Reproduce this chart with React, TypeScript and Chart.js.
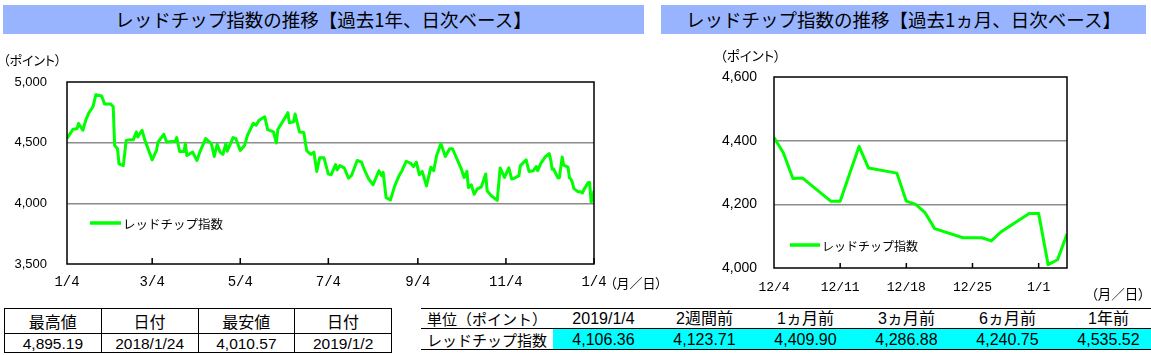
import React, { useEffect, useRef } from 'react';
import { Chart, registerables } from 'chart.js';

Chart.register(...registerables);

// ---- 1-year series (x = days since 2018/1/4) ----
const yearDays = [
  0, 4, 7, 8, 11, 13, 15, 18, 20, 24, 26, 30, 32, 33, 35, 36, 39, 41, 44, 46, 48, 49, 52, 54, 57, 59,
  62, 63, 67, 69, 75, 76, 78, 81, 82, 83, 87, 90, 92, 96, 100, 102, 104, 106, 108, 110, 111, 115, 117,
  120, 123, 125, 127, 129, 131, 133, 137, 139, 143, 145, 146, 150, 153, 154, 157, 158, 161, 164, 166,
  167, 169, 171, 173, 175, 178, 181, 183, 186, 187, 189, 192, 195, 197, 201, 204, 206, 209, 212, 216,
  218, 219, 221, 224, 227, 230, 232, 235, 238, 240, 242, 244, 246, 249, 252, 254, 256, 259, 262, 265,
  267, 273, 275, 277, 278, 280, 282, 284, 287, 290, 291, 294, 298, 300, 303, 306, 308, 310, 313, 314,
  318, 320, 323, 325, 326, 328, 331, 334, 335, 336, 337, 340, 341, 342, 343, 344, 347, 348, 349, 350,
  351, 354, 356, 357, 358, 361, 362, 363, 364, 365,
];
const yearValues = [
  4535.52, 4608, 4617, 4658, 4602, 4686, 4742, 4797, 4895.19, 4885, 4819, 4819, 4797, 4477, 4450, 4325,
  4311, 4519, 4525, 4525, 4588, 4547, 4602, 4519, 4422, 4358,
  4436, 4505, 4569, 4505, 4511, 4542, 4427, 4427, 4492, 4394, 4422, 4353, 4422, 4533, 4492, 4386, 4486,
  4422, 4403, 4492, 4430, 4542, 4533,
  4436, 4477, 4561, 4610, 4660, 4644, 4685, 4713, 4608, 4588, 4497, 4608, 4686, 4747, 4663, 4672, 4736,
  4588, 4583, 4436,
  4422, 4403, 4422, 4263, 4375, 4375, 4240.75, 4236, 4319, 4275, 4311, 4292, 4208, 4228, 4353, 4339,
  4275, 4200, 4153, 4269,
  4228, 4255, 4047, 4028, 4144, 4228, 4269, 4347, 4330, 4303, 4339, 4236, 4263, 4144, 4297, 4269, 4394,
  4492, 4386, 4450,
  4450, 4286.88, 4213, 4263, 4130, 4153, 4075, 4117, 4136, 4242, 4103, 4061, 4025, 4292, 4213, 4292,
  4200, 4208, 4228, 4311,
  4358, 4263, 4269, 4303, 4269, 4325, 4380, 4409.9, 4361, 4281, 4283, 4210, 4210, 4296, 4382, 4314,
  4298, 4210, 4200, 4173,
  4123.71, 4095, 4095, 4085, 4113, 4171, 4171, 4010.57, 4026, 4106.36,
];
const yearTickDays = [0, 59, 120, 181, 243, 304, 365];
const yearTickLabels = ['1/4', '3/4', '5/4', '7/4', '9/4', '11/4', '1/4'];
const yearYTicks = [3500, 4000, 4500, 5000];

// ---- 1-month series (x = days since 2018/12/4) ----
const monthDays = [0, 1, 2, 3, 6, 7, 8, 9, 10, 13, 14, 15, 16, 17, 20, 21, 22, 23, 24, 27, 28, 29, 30, 31];
const monthValues = [
  4409.9, 4361, 4281, 4283, 4210, 4210, 4296, 4382, 4314, 4298, 4210, 4200, 4173, 4123.71, 4095, 4095,
  4095, 4085, 4113, 4171, 4171, 4010.57, 4026, 4106.36,
];
const monthTickDays = [0, 7, 14, 21, 28];
const monthTickLabels = ['12/4', '12/11', '12/18', '12/25', '1/1'];
const monthYTicks = [4000, 4200, 4400, 4600];

const seriesName = 'レッドチップ指数';
const titleYear = 'レッドチップ指数の推移【過去1年、日次ベース】';
const titleMonth = 'レッドチップ指数の推移【過去1ヵ月、日次ベース】';
const unitY = '（ポイント）';
const unitX = '（月／日）';

const summaryHeaders = ['最高値', '日付', '最安値', '日付'];
const summaryValues = ['4,895.19', '2018/1/24', '4,010.57', '2019/1/2'];
const compareHeaders = ['単位（ポイント）', '2019/1/4', '2週間前', '1ヵ月前', '3ヵ月前', '6ヵ月前', '1年前'];
const compareLabel = 'レッドチップ指数';
const compareValues = [4106.36, 4123.71, 4409.9, 4286.88, 4240.75, 4535.52];

const GREEN = '#00ff00';
const JP = "'Noto Sans CJK JP', sans-serif";
const NUM = "'Liberation Sans', 'Noto Sans CJK JP', sans-serif";
const MONO = "'Liberation Mono', 'DejaVu Sans Mono', monospace";

const fmt = (v: number) =>
  v.toLocaleString('en-US', { minimumFractionDigits: 2, maximumFractionDigits: 2 });

const framePlugin = {
  id: 'frame',
  afterDatasetsDraw(chart: any, _args: any, opts: any) {
    const { ctx, chartArea: a, scales } = chart;
    ctx.save();
    ctx.strokeStyle = '#000';
    ctx.lineWidth = 1.5;
    ctx.strokeRect(a.left, a.top, a.right - a.left, a.bottom - a.top);
    scales.x.ticks.forEach((t: any) => {
      const px = scales.x.getPixelForValue(t.value);
      if (px <= a.left + 1) return;
      ctx.beginPath();
      ctx.moveTo(px, a.bottom);
      ctx.lineTo(px, a.bottom - opts.tickLen);
      ctx.stroke();
    });
    // legend
    const ly = a.top + opts.legendY;
    const lx = a.left + opts.legendX;
    ctx.strokeStyle = GREEN;
    ctx.lineWidth = 3.5;
    ctx.beginPath();
    ctx.moveTo(lx, ly);
    ctx.lineTo(lx + opts.legendLen, ly);
    ctx.stroke();
    ctx.fillStyle = '#000';
    ctx.font = opts.legendFont;
    ctx.textBaseline = 'middle';
    ctx.textAlign = 'left';
    ctx.fillText(seriesName, lx + opts.legendLen + 2, ly + 1);
    ctx.restore();
  },
};

function buildChart(
  canvas: HTMLCanvasElement,
  xs: number[],
  ys: number[],
  xTicks: number[],
  xLabels: string[],
  yTicks: number[],
  geo: any
) {
  return new Chart(canvas, {
    type: 'line',
    data: {
      datasets: [
        {
          label: seriesName,
          data: xs.map((x, i) => ({ x, y: ys[i] })),
          borderColor: GREEN,
          backgroundColor: GREEN,
          borderWidth: 3,
          pointRadius: 0,
          tension: 0,
          borderJoinStyle: 'round',
        },
      ],
    },
    options: {
      animation: false,
      responsive: false,
      devicePixelRatio: 1,
      events: [],
      layout: { padding: { top: geo.padTop, right: geo.padRight, left: 0, bottom: 0 } },
      plugins: {
        legend: { display: false },
        tooltip: { enabled: false },
        frame: geo.frame,
      } as any,
      scales: {
        x: {
          type: 'linear',
          min: xTicks[0],
          max: geo.xMax,
          afterBuildTicks: (s: any) => {
            s.ticks = xTicks.map((v) => ({ value: v }));
          },
          afterFit: (s: any) => {
            s.height = geo.xHeight;
          },
          grid: { display: false, drawTicks: false },
          border: { display: false },
          ticks: {
            autoSkip: false,
            maxRotation: 0,
            padding: geo.xPad,
            color: '#000',
            font: { family: MONO, size: geo.xFont },
            callback: (_v: any, i: number) => xLabels[i],
          },
        },
        y: {
          type: 'linear',
          min: yTicks[0],
          max: yTicks[yTicks.length - 1],
          afterBuildTicks: (s: any) => {
            s.ticks = yTicks.map((v) => ({ value: v }));
          },
          afterFit: (s: any) => {
            s.width = geo.yWidth;
          },
          grid: {
            drawTicks: false,
            lineWidth: 1.5,
            color: (c: any) =>
              c.index === 0 || c.index === yTicks.length - 1 ? 'rgba(0,0,0,0)' : '#8c8c8c',
          },
          border: { display: false },
          ticks: {
            padding: geo.yPad,
            color: '#000',
            font: { family: NUM, size: geo.yFont },
            callback: (v: any) => Number(v).toLocaleString('en-US'),
          },
        },
      },
    },
    plugins: [framePlugin as any],
  } as any);
}

const titleStyle = (left: number, width: number): React.CSSProperties => ({
  position: 'absolute',
  left,
  top: 5,
  width,
  height: 29,
  lineHeight: '29px',
  background: '#99b4ff',
  color: '#000',
  fontFamily: JP,
  fontSize: 18.5,
  textAlign: 'center',
  whiteSpace: 'nowrap',
});

const unitStyle = (left: number, top: number, size: number): React.CSSProperties => ({
  position: 'absolute',
  left,
  top,
  fontFamily: JP,
  fontSize: size,
  lineHeight: '16px',
  color: '#000',
  whiteSpace: 'nowrap',
  fontFeatureSettings: '"palt"',
});

export default function App() {
  const c1 = useRef<HTMLCanvasElement>(null);
  const c2 = useRef<HTMLCanvasElement>(null);

  useEffect(() => {
    const ch1 = buildChart(c1.current!, yearDays, yearValues, yearTickDays, yearTickLabels, yearYTicks, {
      padTop: 42,
      padRight: 86,
      xHeight: 41,
      yWidth: 67,
      xMax: 365,
      xPad: 10,
      yPad: 20,
      xFont: 14,
      yFont: 13,
      frame: { tickLen: 6, legendX: 23, legendY: 141, legendLen: 31, legendFont: `12.5px ${JP}` },
    });
    const ch2 = buildChart(c2.current!, monthDays, monthValues, monthTickDays, monthTickLabels, monthYTicks, {
      padTop: 37,
      padRight: 84,
      xHeight: 37,
      yWidth: 94,
      xMax: 31,
      xPad: 12,
      yPad: 17,
      xFont: 13,
      yFont: 14,
      frame: { tickLen: 5, legendX: 16, legendY: 168, legendLen: 30, legendFont: `12px ${JP}` },
    });
    return () => {
      ch1.destroy();
      ch2.destroy();
    };
  }, []);

  const cellL: React.CSSProperties = {
    border: '1px solid #000',
    padding: 0,
    textAlign: 'center',
    color: '#000',
    whiteSpace: 'nowrap',
  };
  const cellR: React.CSSProperties = {
    padding: 0,
    textAlign: 'center',
    color: '#000',
    whiteSpace: 'nowrap',
    borderBottom: '1px solid #000',
  };

  return (
    <div
      style={{
        position: 'fixed',
        left: 0,
        top: 0,
        width: 1151,
        height: 355,
        overflow: 'hidden',
        background: '#fff',
      }}
    >
      <div style={titleStyle(3, 641)}>{titleYear}</div>
      <div style={titleStyle(661, 485)}>{titleMonth}</div>

      <canvas ref={c1} width={680} height={265} style={{ position: 'absolute', left: 0, top: 40 }} />
      <canvas ref={c2} width={471} height={265} style={{ position: 'absolute', left: 680, top: 40 }} />

      <div style={unitStyle(3, 52, 13)}>{unitY}</div>
      <div style={unitStyle(720, 47, 13.5)}>{unitY}</div>
      <div style={unitStyle(610, 275, 13)}>{unitX}</div>
      <div style={unitStyle(1091, 285, 13.5)}>{unitX}</div>

      <table
        style={{
          position: 'absolute',
          left: 4,
          top: 308,
          width: 388,
          borderCollapse: 'collapse',
          tableLayout: 'fixed',
        }}
      >
        <tbody>
          <tr style={{ height: 23 }}>
            {summaryHeaders.map((h, i) => (
              <td key={i} style={{ ...cellL, fontFamily: JP, fontSize: 16 }}>
                {h}
              </td>
            ))}
          </tr>
          <tr style={{ height: 19 }}>
            {summaryValues.map((v, i) => (
              <td key={i} style={{ ...cellL, fontFamily: NUM, fontSize: 15.5, lineHeight: '17px' }}>
                {v}
              </td>
            ))}
          </tr>
        </tbody>
      </table>

      <table
        style={{
          position: 'absolute',
          left: 421,
          top: 308,
          width: 738,
          borderCollapse: 'collapse',
          tableLayout: 'fixed',
        }}
      >
        <colgroup>
          <col style={{ width: 132 }} />
          {compareValues.map((_, i) => (
            <col key={i} style={{ width: 101 }} />
          ))}
        </colgroup>
        <tbody>
          <tr style={{ height: 20 }}>
            {compareHeaders.map((h, i) => (
              <td
                key={i}
                style={{
                  ...cellR,
                  borderTop: '1px solid #000',
                  fontFamily: i === 0 ? JP : NUM,
                  fontSize: i === 0 ? 15 : 16,
                  lineHeight: '18px',
                }}
              >
                {h}
              </td>
            ))}
          </tr>
          <tr style={{ height: 21 }}>
            <td style={{ ...cellR, fontFamily: JP, fontSize: 15, lineHeight: '19px' }}>{compareLabel}</td>
            {compareValues.map((v, i) => (
              <td
                key={i}
                style={{ ...cellR, background: '#00ffff', fontFamily: NUM, fontSize: 16, lineHeight: '19px' }}
              >
                {fmt(v)}
              </td>
            ))}
          </tr>
        </tbody>
      </table>
    </div>
  );
}
